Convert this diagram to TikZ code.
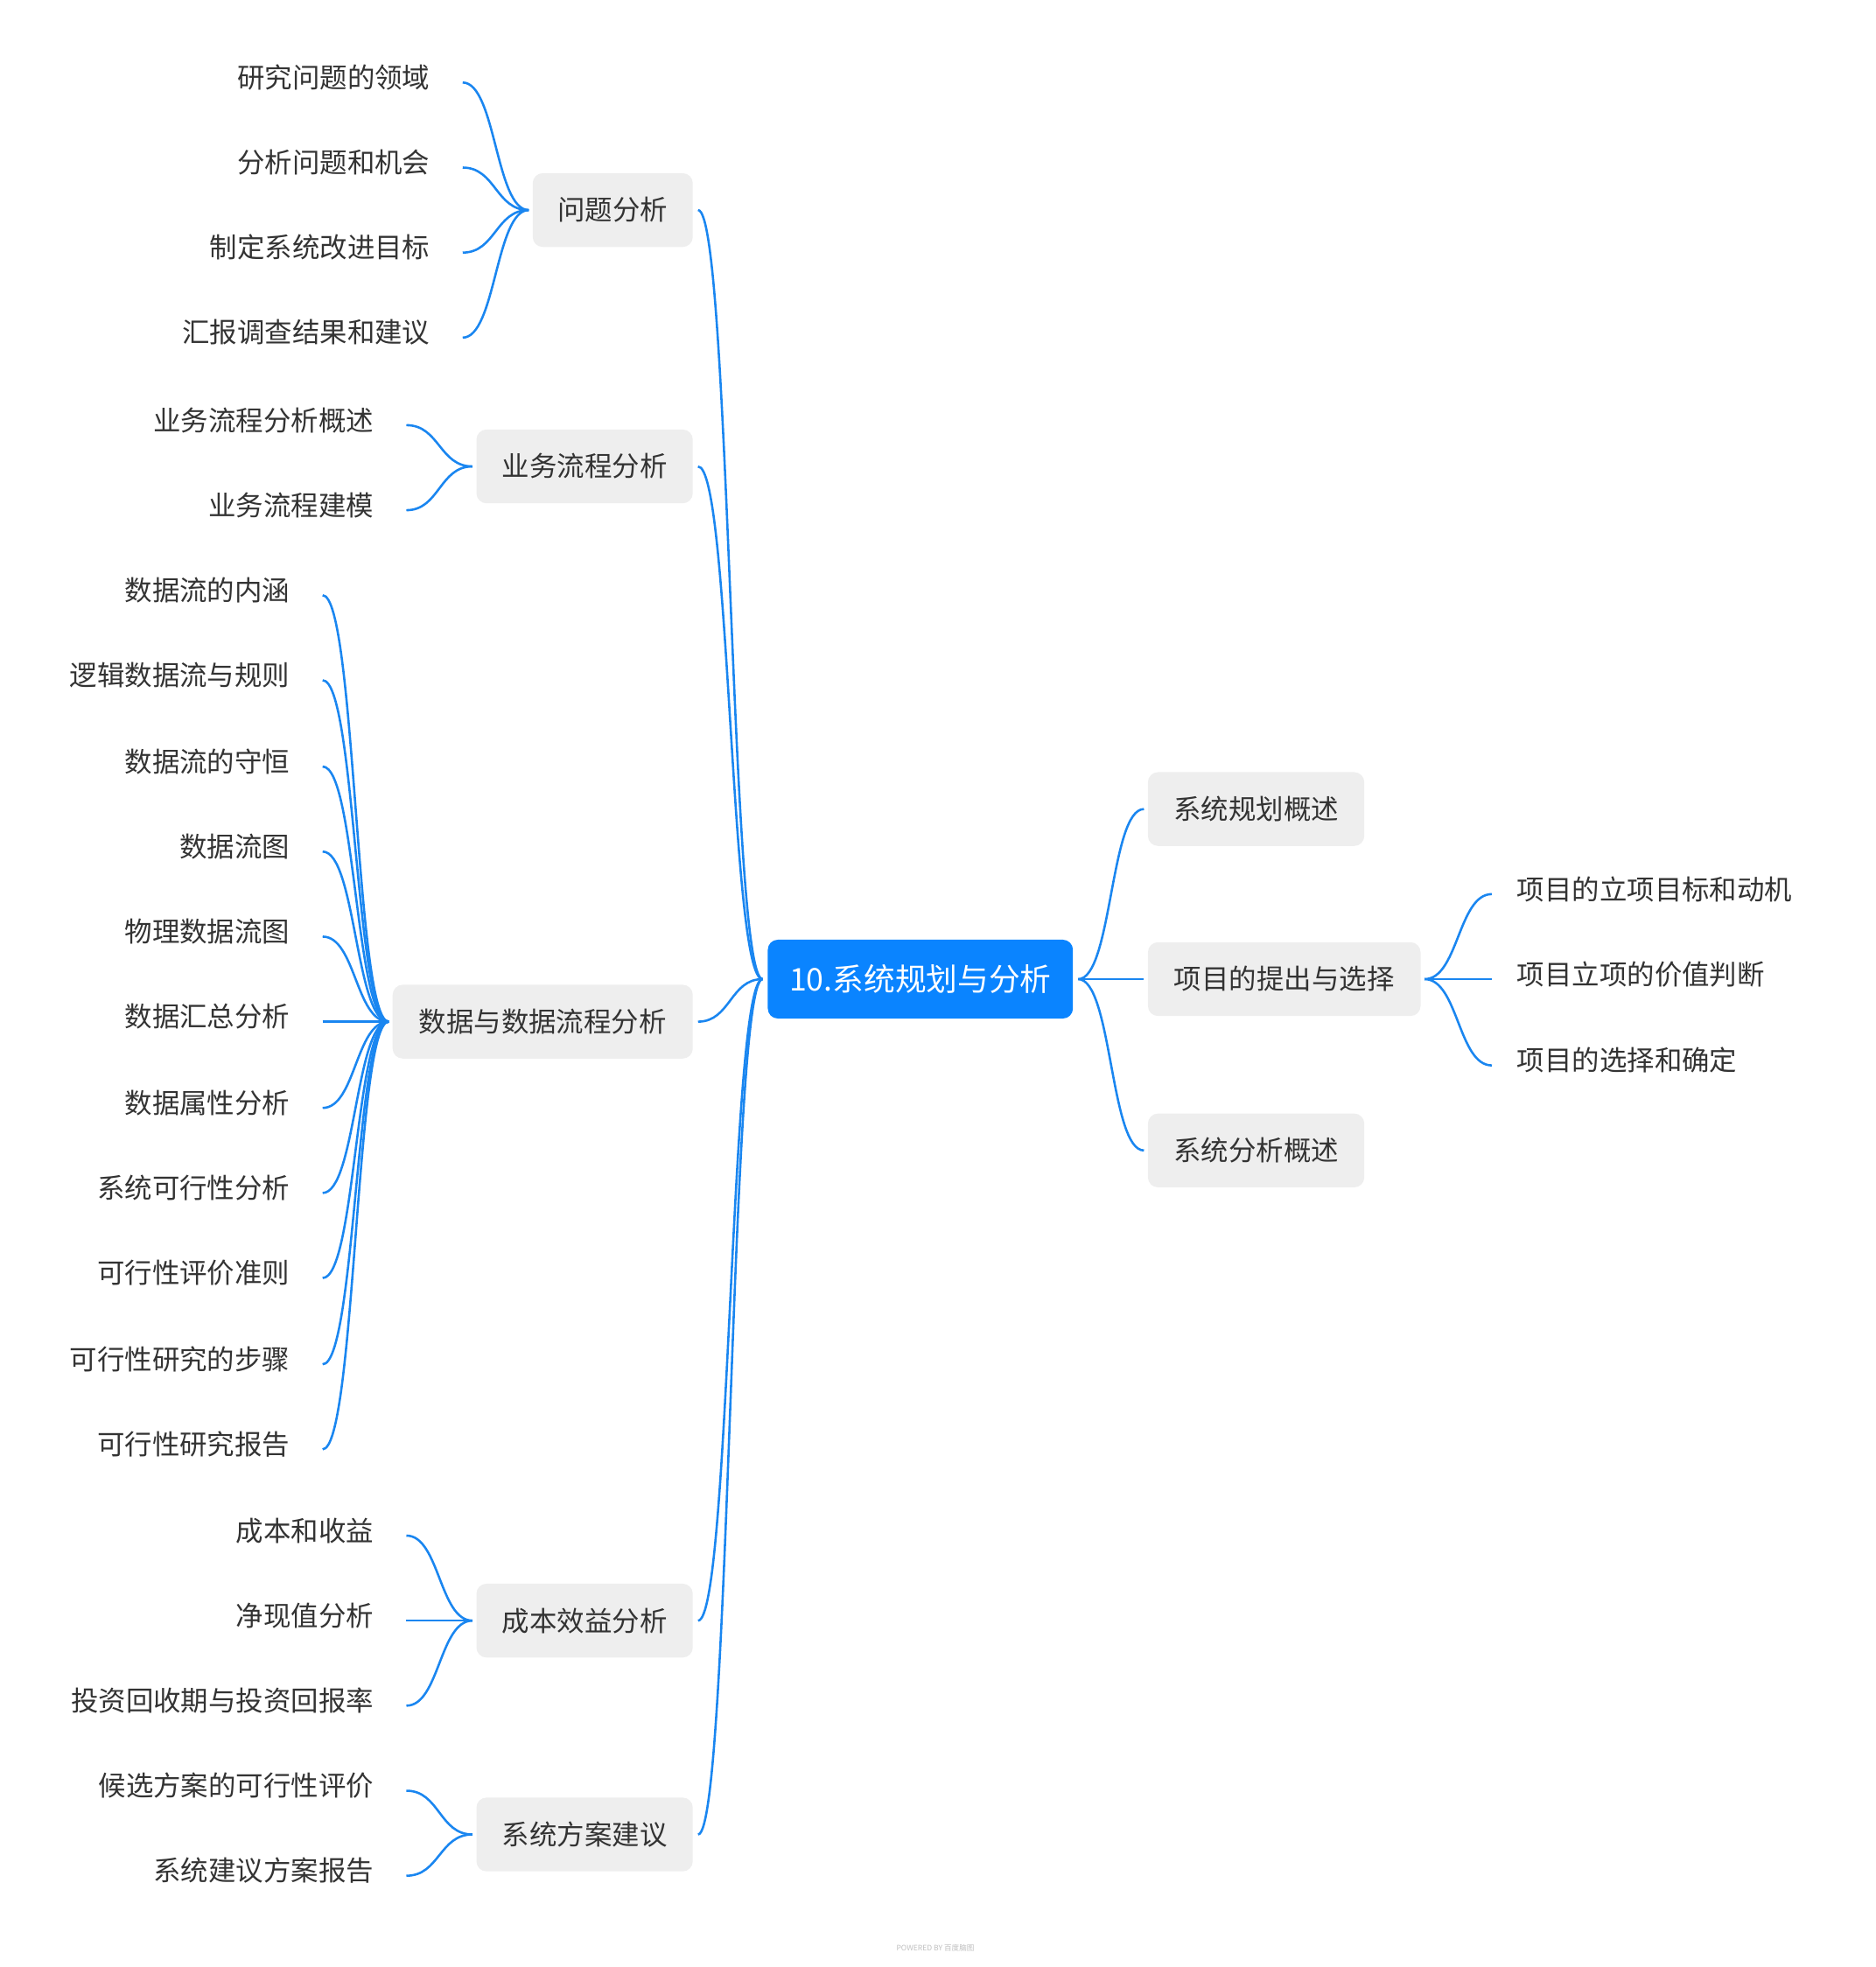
\documentclass[tikz,border=0pt]{standalone}
\usepackage{fontspec}
\setmainfont{Noto Sans CJK SC}
\usetikzlibrary{calc}
\definecolor{lineblue}{HTML}{1A86F0}
\definecolor{rootblue}{HTML}{0A84FF}
\definecolor{boxgray}{HTML}{EEEEEE}
\definecolor{txt}{HTML}{333333}
\begin{document}
\begin{tikzpicture}[x=1pt,y=-1pt,
  lvl/.style={fill=boxgray,rounded corners=8pt,minimum height=59pt,inner sep=0pt,text=txt,font=\fontsize{22}{25}\selectfont},
  leaf/.style={anchor=east,inner sep=0pt,text=txt,font=\fontsize{22}{25}\selectfont},
  rleaf/.style={anchor=west,inner sep=0pt,text=txt,font=\fontsize{22}{25}\selectfont},
  con/.style={draw=lineblue,line width=1.8pt}]
\useasboundingbox (0,0) rectangle (1500,1573);
\node[fill=rootblue,rounded corners=8pt,minimum width=244pt,minimum height=63pt,text=white,font=\fontsize{25}{29}\selectfont] (root) at (736,783) {10.系统规划与分析};
% level 1 left
\node[lvl,minimum width=128pt] (a) at (490,168) {问题分析};
\node[lvl,minimum width=173pt] (b) at (467.5,373) {业务流程分析};
\node[lvl,minimum width=240pt] (c) at (434,817) {数据与数据流程分析};
\node[lvl,minimum width=173pt] (d) at (467.5,1296) {成本效益分析};
\node[lvl,minimum width=173pt] (e) at (467.5,1467) {系统方案建议};
% level 1 right
\node[lvl,minimum width=173pt] (f) at (1004.5,647) {系统规划概述};
\node[lvl,minimum width=218pt] (g) at (1027,783) {项目的提出与选择};
\node[lvl,minimum width=173pt] (h) at (1004.5,920) {系统分析概述};
% root connectors
\path (root.west) ++(-4,0) coordinate (rw);
\path (root.east) ++(4,0) coordinate (re);
\foreach \n in {a,b,c,d,e}{
  \path (\n.east) ++(4,0) coordinate (p\n);
  \draw[con] (rw) .. controls ($(rw)+(-26,0)$) and ($(p\n)+(26,0)$) .. (p\n);
}
\foreach \n in {f,g,h}{
  \path (\n.west) ++(-3,0) coordinate (p\n);
  \draw[con] (re) .. controls ($(re)+(27,0)$) and ($(p\n)+(-27,0)$) .. (p\n);
}
% leaves helper
\def\leafgroup#1#2#3#4{%
  \path (#1.west) ++(-3,0) coordinate (#1w);
  \foreach \y/\t [count=\i] in {#4}{
    \node[leaf] (#1l\i) at (#2,\y-4) {\t};
    \coordinate (#1c\i) at (#2+26,\y);
    \draw[con] (#1c\i) .. controls ($(#1c\i)!0.5!(#1w |- #1c\i)$) and ($(#1w)!0.5!(#1c\i |- #1w)$) .. (#1w);
  }}
\leafgroup{a}{344}{}{66/研究问题的领域,134/分析问题和机会,202/制定系统改进目标,270/汇报调查结果和建议}
\leafgroup{b}{299}{}{340/业务流程分析概述,408/业务流程建模}
\leafgroup{c}{232}{}{476/数据流的内涵,544/逻辑数据流与规则,613/数据流的守恒,681/数据流图,749/物理数据流图,817/数据汇总分析,886/数据属性分析,954/系统可行性分析,1022/可行性评价准则,1091/可行性研究的步骤,1159/可行性研究报告}
\leafgroup{d}{299}{}{1228/成本和收益,1296/净现值分析,1364/投资回收期与投资回报率}
\leafgroup{e}{299}{}{1432/候选方案的可行性评价,1500/系统建议方案报告}
% right leaves
\path (g.east) ++(3,0) coordinate (ge);
\foreach \y/\t [count=\i] in {715/项目的立项目标和动机,783/项目立项的价值判断,852/项目的选择和确定}{
  \node[rleaf] (gl\i) at (1213,\y-4) {\t};
  \coordinate (gc\i) at (1193,\y);
  \draw[con] (ge) .. controls ($(ge)!0.5!(gc\i |- ge)$) and ($(gc\i)!0.5!(ge |- gc\i)$) .. (gc\i);
}
\node[text=gray!50,font=\fontsize{6}{7}\selectfont,inner sep=0pt] (pw) at (748,1558) {POWERED BY 百度脑图};
\end{tikzpicture}
\end{document}
